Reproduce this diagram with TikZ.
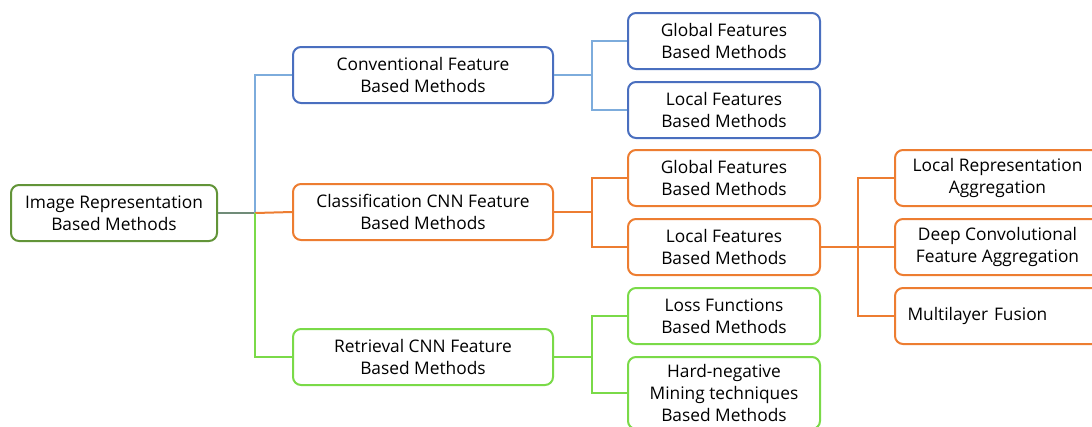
\documentclass[tikz,border=0pt]{standalone}
\usepackage{fontspec}
\setmainfont{Open Sans}
\usetikzlibrary{positioning}

\definecolor{rootgreen}{RGB}{98,148,56}
\definecolor{boxblue}{RGB}{74,111,191}
\definecolor{lineblue}{RGB}{125,172,220}
\definecolor{boxorange}{RGB}{237,125,49}
\definecolor{boxgreen}{RGB}{122,218,72}
\definecolor{rootline}{RGB}{112,140,120}

\tikzset{every picture/.style={line width=1.5pt}}
\tikzset{
  mbox/.style={draw, rounded corners=6pt, fill=white, align=center, inner sep=2pt,
    minimum height=42pt, font=\fontsize{13pt}{16.5pt}\selectfont},
  rootbox/.style={mbox, draw=rootgreen, minimum width=154.5pt},
  onebox/.style={mbox, minimum width=195pt},
  twobox/.style={mbox, minimum width=144pt},
  threebox/.style={mbox, minimum width=153.75pt},
}

\begin{document}
\begin{tikzpicture}[x=0.75pt,y=0.75pt,yscale=-1,xscale=1]
\useasboundingbox (0,0) rectangle (1092,426);

% Text Node
\node [rootbox] (root) at (114,213) {Image Representation\\Based Methods};
% Text Node
\node [onebox, draw=boxblue] (conv) at (423,75) {Conventional Feature\\Based Methods};
% Text Node
\node [onebox, draw=boxorange] (clas) at (423,212) {Classification CNN Feature\\Based Methods};
% Text Node
\node [onebox, draw=boxgreen] (retr) at (423,357) {Retrieval CNN Feature\\Based Methods};

% Text Node
\node [twobox, draw=boxblue] (cglob) at (724,41) {Global Features\\Based Methods};
% Text Node
\node [twobox, draw=boxblue] (cloc) at (724,110) {Local Features\\Based Methods};
% Text Node
\node [twobox, draw=boxorange] (kglob) at (724,178) {Global Features\\Based Methods};
% Text Node
\node [twobox, draw=boxorange] (kloc) at (724,247) {Local Features\\Based Methods};
% Text Node
\node [twobox, draw=boxgreen] (rloss) at (724,316) {Loss Functions\\Based Methods};
% Text Node
\node [twobox, draw=boxgreen, minimum height=54pt] (rhard) at (724,393) {Hard-negative\\Mining techniques\\Based Methods};

% Text Node
\node [threebox, draw=boxorange] (lragg) at (997.5,178) {Local Representation\\Aggregation};
% Text Node
\node [threebox, draw=boxorange] (dcagg) at (997.5,247) {Deep Convolutional\\Feature Aggregation};
% Text Node
\node [threebox, draw=boxorange, text width=135pt, align=left] (mfus) at (997.5,316) {Multilayer Fusion};

%Straight Lines
\coordinate (rj) at (255,213);
\draw [rootline] (root.east) -- (rj);
\draw [lineblue] (rj) |- (conv.west);
\draw [boxorange] (rj) -- (clas.west);
\draw [boxgreen] (rj) |- (retr.west);

%Straight Lines
\draw [lineblue] (conv.east) -- ++(38,0) coordinate (cj);
\draw [lineblue] (cj) |- (cglob.west);
\draw [lineblue] (cj) |- (cloc.west);
%Straight Lines
\draw [boxorange] (clas.east) -- ++(38,0) coordinate (kj);
\draw [boxorange] (kj) |- (kglob.west);
\draw [boxorange] (kj) |- (kloc.west);
%Straight Lines
\draw [boxgreen] (retr.east) -- ++(38,0) coordinate (gj);
\draw [boxgreen] (gj) |- (rloss.west);
\draw [boxgreen] (gj) |- (rhard.west);
%Straight Lines
\draw [boxorange] (kloc.east) -- ++(37,0) coordinate (lj);
\draw [boxorange] (lj) |- (lragg.west);
\draw [boxorange] (lj) -- (dcagg.west);
\draw [boxorange] (lj) |- (mfus.west);

\end{tikzpicture}
\end{document}
